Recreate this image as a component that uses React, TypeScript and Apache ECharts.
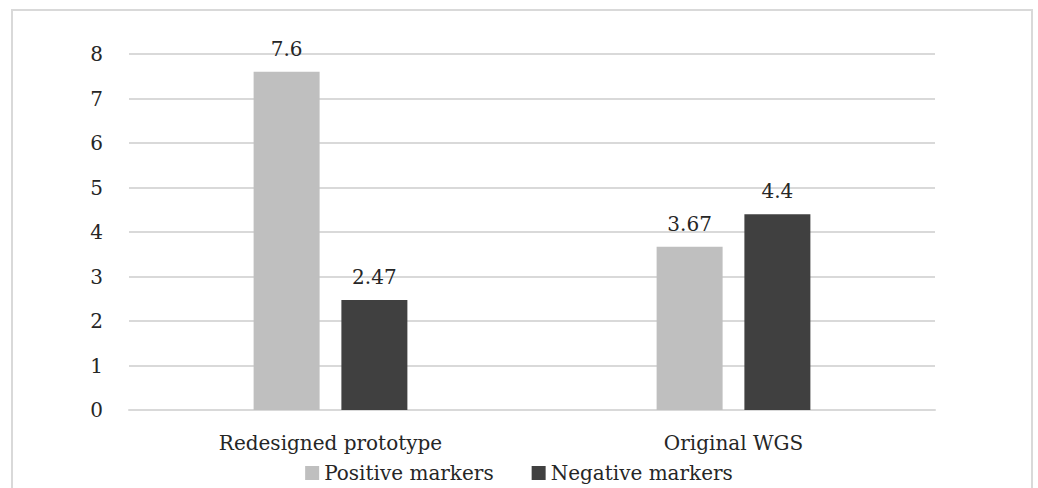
import React, { useEffect, useRef } from "react";
import * as echarts from "echarts";

const categories = ["Redesigned prototype", "Original WGS"];
const positiveMarkers = [7.6, 3.67];
const negativeMarkers = [2.47, 4.4];
const seriesNames = ["Positive markers", "Negative markers"];

const FONT = "DejaVu Serif";

export default function App() {
  const ref = useRef<HTMLDivElement>(null);
  useEffect(() => {
    if (!ref.current) return;
    const chart = echarts.init(ref.current, null, { renderer: "svg" });
    chart.setOption({
      animation: false,
      backgroundColor: "#ffffff",
      textStyle: { fontFamily: FONT },
      graphic: [
        {
          type: "rect",
          shape: { x: 12, y: 10, width: 1020, height: 500 },
          style: { fill: "none", stroke: "#d9d9d9", lineWidth: 2 },
          silent: true,
        },
      ],
      grid: { left: 129, right: 103, top: 54, bottom: 78, containLabel: false },
      legend: {
        bottom: 0,
        left: "center",
        itemWidth: 14,
        itemHeight: 14,
        itemGap: 38,
        icon: "rect",
        textStyle: { fontFamily: FONT, fontSize: 20, color: "#262626" },
        data: seriesNames,
      },
      xAxis: {
        type: "category",
        data: categories,
        axisLine: { lineStyle: { color: "#d9d9d9", width: 2 } },
        axisTick: { show: false },
        axisLabel: { fontFamily: FONT, fontSize: 20, color: "#262626", margin: 23 },
      },
      yAxis: {
        type: "value",
        min: 0,
        max: 8,
        interval: 1,
        axisLine: { show: false },
        axisTick: { show: false },
        splitLine: { lineStyle: { color: "#d9d9d9", width: 2 } },
        axisLabel: { fontFamily: FONT, fontSize: 20, color: "#262626", margin: 26 },
      },
      series: [
        {
          name: seriesNames[0],
          type: "bar",
          data: positiveMarkers,
          barWidth: 66,
          barGap: "33%",
          itemStyle: { color: "#bfbfbf" },
          label: { show: true, position: "top", distance: 13, fontFamily: FONT, fontSize: 20, color: "#262626" },
        },
        {
          name: seriesNames[1],
          type: "bar",
          data: negativeMarkers,
          barWidth: 66,
          barGap: "33%",
          itemStyle: { color: "#404040" },
          label: { show: true, position: "top", distance: 13, fontFamily: FONT, fontSize: 20, color: "#262626" },
        },
      ],
    });
    return () => chart.dispose();
  }, []);
  return (
    <div
      ref={ref}
      style={{ position: "fixed", left: 0, top: 0, width: 1038, height: 488 }}
    />
  );
}
